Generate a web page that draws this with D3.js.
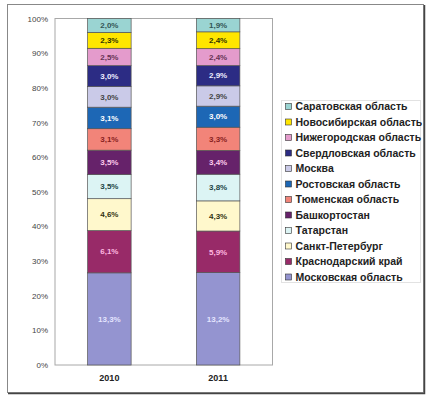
<!DOCTYPE html>
<html lang="ru">

<head>
    <meta charset="UTF-8">
    <title>Регионы</title>
    <style>
        body { margin: 0; background: #fff; }
        text { font-family: "Liberation Sans", Arial, sans-serif; }
    </style>
</head>

<body>
    <svg width="431" height="399" id="svg"></svg>
    <script src="https://d3js.org/d3.v7.min.js"></script>
    <script>
        // данные (снизу вверх по столбцу)
        const years = ["2010", "2011"]
        const regions = ["Московская область", "Краснодарский край", "Санкт-Петербург", "Татарстан",
            "Башкортостан", "Тюменская область", "Ростовская область", "Москва",
            "Свердловская область", "Нижегородская область", "Новосибирская область", "Саратовская область"]
        const values2010 = [13.3, 6.1, 4.6, 3.5, 3.5, 3.1, 3.1, 3.0, 3.0, 2.5, 2.3, 2.0]
        const values2011 = [13.2, 5.9, 4.3, 3.8, 3.4, 3.3, 3.0, 2.9, 2.9, 2.4, 2.4, 1.9]
        const yTicks = [0, 0.1, 0.2, 0.3, 0.4, 0.5, 0.6, 0.7, 0.8, 0.9, 1]

        const colors = ["#9494d0", "#982a68", "#fff8cc", "#dcf4f4", "#66226a", "#f28479",
            "#1d67b5", "#cacae8", "#2c2c84", "#e49bcc", "#ffe600", "#9ad4d2"]
        const labelColors = ["#e4e4ff", "#ffb8e0", "#333311", "#224444", "#ffccee", "#882222",
            "#ffffff", "#444444", "#eeeeff", "#663355", "#333300", "#335555"]

        const rows = years.map((y, i) => {
            const vals = i === 0 ? values2010 : values2011
            const row = { year: y }
            regions.forEach((r, j) => row[r] = vals[j])
            return row
        })

        const svg = d3.select("svg#svg")
        const plot = { left: 55, right: 272.5, top: 18.5, bottom: 365 }

        // внешняя рамка
        svg.append("rect").attr("x", 7.5).attr("y", 4.5).attr("width", 416).attr("height", 388)
            .attr("fill", "#fff").attr("stroke", "#888")
        svg.append("path").attr("d", "M424.5 5 V393.5 H8").attr("stroke", "#444").attr("stroke-width", 1.5).attr("fill", "none")

        const xScale = d3.scaleBand().domain(years).range([plot.left, plot.right]).paddingInner(0.6).paddingOuter(0.3)
        const yScale = d3.scaleLinear().domain([0, 1]).range([plot.bottom, plot.top])

        svg.append("rect").attr("x", plot.left).attr("y", plot.top)
            .attr("width", plot.right - plot.left).attr("height", plot.bottom - plot.top)
            .attr("fill", "#fff").attr("stroke", "#a8a8a8")

        const yAxis = d3.axisLeft(yScale).tickValues(yTicks).tickSize(0).tickPadding(7)
            .tickFormat(d => Math.round(d * 100) + "%")
        const gy = svg.append("g").attr("transform", `translate(${plot.left},0)`).call(yAxis)
        gy.select(".domain").remove()
        gy.selectAll("text").attr("font-size", 8).attr("fill", "#444").style("font-family", "Liberation Sans, Arial")

        const stack = d3.stack().keys(regions).offset(d3.stackOffsetExpand)
        const layers = stack(rows)

        const fmt = v => v.toFixed(1).replace(".", ",") + "%"

        const layer = svg.selectAll("g.layer").data(layers).enter().append("g").attr("class", "layer")
        layer.selectAll("rect").data((d, i) => d.map(s => ({ s, i, key: d.key })))
            .enter().append("rect")
            .attr("x", d => xScale(d.s.data.year))
            .attr("y", d => yScale(d.s[1]))
            .attr("width", xScale.bandwidth())
            .attr("height", d => yScale(d.s[0]) - yScale(d.s[1]))
            .attr("fill", d => colors[d.i])
            .attr("stroke", "#555").attr("stroke-width", 0.7)

        layer.selectAll("text").data((d, i) => d.map(s => ({ s, i, key: d.key })))
            .enter().append("text")
            .attr("x", d => xScale(d.s.data.year) + xScale.bandwidth() / 2)
            .attr("y", d => (yScale(d.s[0]) + yScale(d.s[1])) / 2)
            .attr("dy", "0.35em")
            .attr("text-anchor", "middle")
            .attr("font-size", 8).attr("font-weight", "bold")
            .attr("fill", d => labelColors[d.i])
            .text(d => fmt(d.s.data[d.key]))

        // подписи годов
        svg.selectAll("text.year").data(years).enter().append("text").attr("class", "year")
            .attr("x", d => xScale(d) + xScale.bandwidth() / 2)
            .attr("y", 381)
            .attr("text-anchor", "middle")
            .attr("font-size", 9).attr("font-weight", "bold").attr("fill", "#222")
            .text(d => d)

        // легенда (сверху вниз)
        const legendItems = regions.map((r, i) => ({ name: r, color: colors[i] })).reverse()
        svg.append("rect").attr("x", 281.5).attr("y", 100.5).attr("width", 139).attr("height", 182)
            .attr("fill", "#fff").attr("stroke", "#e2e2e2")
        const legendY = d3.scalePoint().domain(legendItems.map(d => d.name)).range([106.5, 277])
        const lg = svg.selectAll("g.legend").data(legendItems).enter().append("g").attr("class", "legend")
            .attr("transform", d => `translate(285,${legendY(d.name)})`)
        lg.append("rect").attr("x", 0.5).attr("y", -3).attr("width", 6).attr("height", 6)
            .attr("fill", d => d.color).attr("stroke", "#333").attr("stroke-width", 0.6)
        lg.append("text").attr("x", 10.5).attr("dy", "0.35em")
            .attr("font-size", 10.5).attr("font-weight", "bold").attr("fill", "#222")
            .text(d => d.name)
    </script>
</body>

</html>
